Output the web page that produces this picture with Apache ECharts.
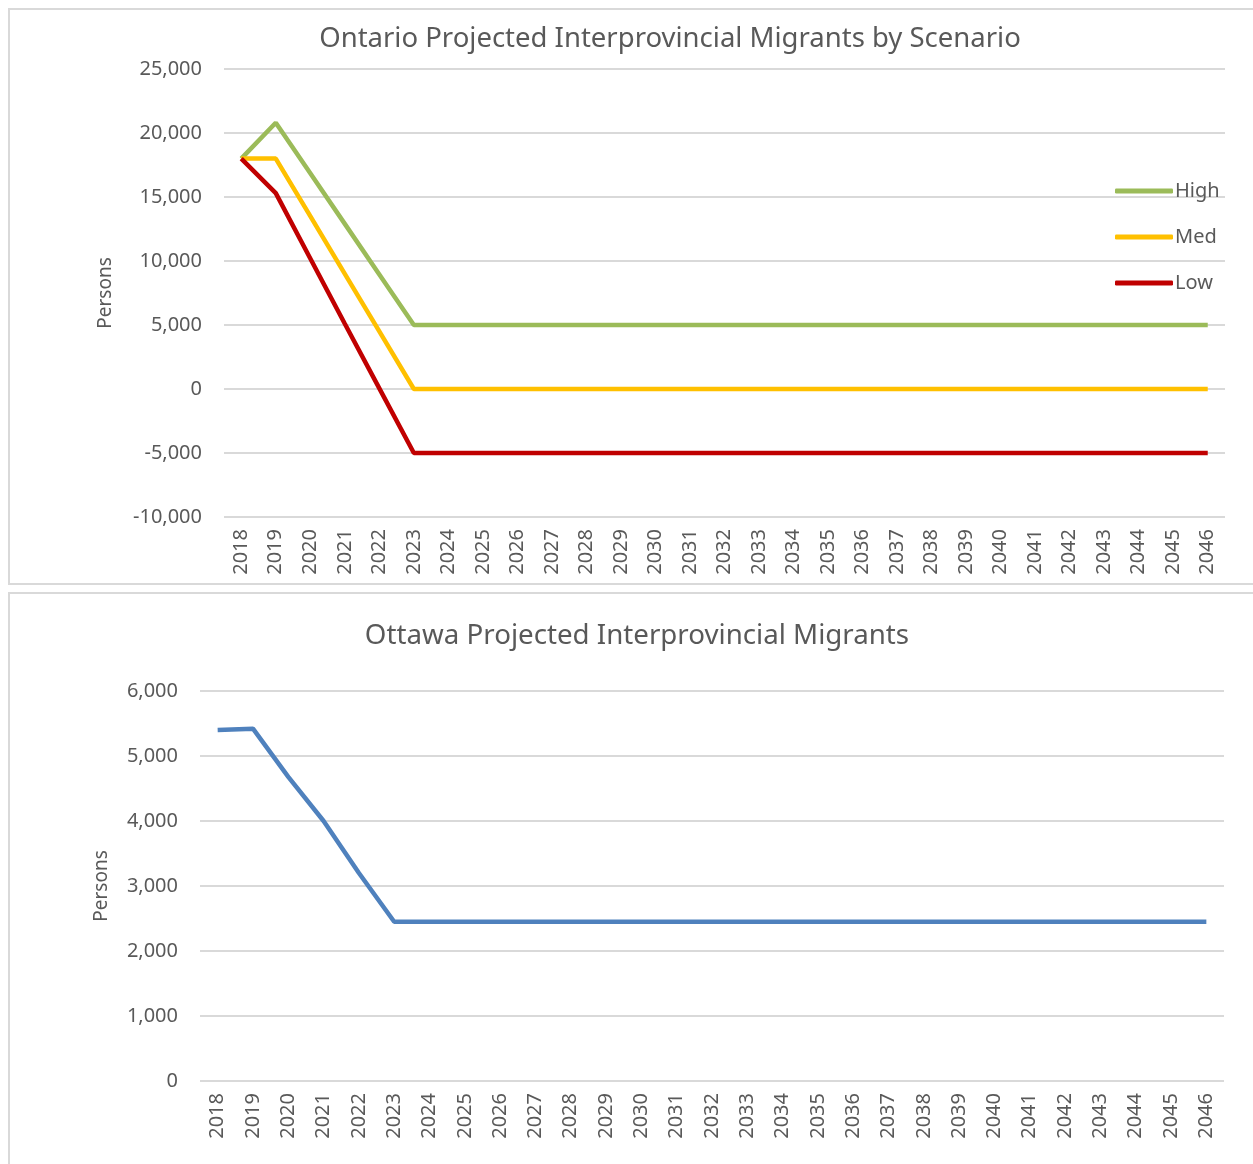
<!DOCTYPE html>
<html>
<head>
<meta charset="utf-8">
<script src="https://cdn.jsdelivr.net/npm/echarts@6/dist/echarts.min.js"></script>
<style>
  html, body { margin: 0; padding: 0; background: #fff; }
  #main { width: 1253px; height: 1164px; }
</style>
</head>
<body>
<div id="main"></div>
<script>
// data
var years = [];
for (var y = 2018; y <= 2046; y++) years.push(String(y));

var ontarioHigh = [18000, 20800, 16850, 12900, 8950, 5000, 5000, 5000, 5000, 5000, 5000, 5000, 5000, 5000, 5000, 5000, 5000, 5000, 5000, 5000, 5000, 5000, 5000, 5000, 5000, 5000, 5000, 5000, 5000];
var ontarioMed = [18000, 18000, 13500, 9000, 4500, 0, 0, 0, 0, 0, 0, 0, 0, 0, 0, 0, 0, 0, 0, 0, 0, 0, 0, 0, 0, 0, 0, 0, 0];
var ontarioLow = [18000, 15300, 10200, 5100, 50, -5000, -5000, -5000, -5000, -5000, -5000, -5000, -5000, -5000, -5000, -5000, -5000, -5000, -5000, -5000, -5000, -5000, -5000, -5000, -5000, -5000, -5000, -5000, -5000];
var ottawa = [5400, 5420, 4680, 4000, 3200, 2450, 2450, 2450, 2450, 2450, 2450, 2450, 2450, 2450, 2450, 2450, 2450, 2450, 2450, 2450, 2450, 2450, 2450, 2450, 2450, 2450, 2450, 2450, 2450];

var FONT = 'Noto Sans';
var GREY = '#595959';

var myChart = echarts.init(document.getElementById('main'));

function fmt(v) { return v.toLocaleString('en-US'); }

function xAxisCfg(idx) {
  return {
    type: 'category', gridIndex: idx, data: years, boundaryGap: true,
    axisLine: { show: false }, axisTick: { show: false },
    axisLabel: { interval: 0, rotate: 90, margin: 12, color: GREY, fontFamily: FONT, fontSize: 20 }
  };
}
function yAxisCfg(idx, min, max, step, gap) {
  return {
    type: 'value', gridIndex: idx, min: min, max: max, interval: step,
    name: 'Persons', nameLocation: 'middle', nameGap: gap,
    nameTextStyle: { color: GREY, fontFamily: FONT, fontSize: 19 },
    axisLine: { show: false }, axisTick: { show: false },
    axisLabel: { margin: 22, color: GREY, fontFamily: FONT, fontSize: 20, formatter: fmt },
    splitLine: { lineStyle: { color: '#d9d9d9', width: 2 } }
  };
}
function lineCfg(name, data, color, idx) {
  return {
    name: name, type: 'line', data: data, xAxisIndex: idx, yAxisIndex: idx,
    symbol: 'none', lineStyle: { color: color, width: 4.5 }, itemStyle: { color: color },
    animation: false
  };
}

var option = {
  animation: false,
  graphic: [
    { type: 'rect', shape: { x: 9, y: 9, width: 1250, height: 575 }, style: { fill: 'none', stroke: '#d9d9d9', lineWidth: 2 } },
    { type: 'rect', shape: { x: 9, y: 593, width: 1250, height: 575 }, style: { fill: 'none', stroke: '#d9d9d9', lineWidth: 2 } }
  ],
  title: [
    { text: 'Ontario Projected Interprovincial Migrants by Scenario', left: 665, top: 20, textAlign: 'center',
      textStyle: { color: GREY, fontFamily: FONT, fontSize: 27.5, fontWeight: 'normal' } },
    { text: 'Ottawa Projected Interprovincial Migrants', left: 632, top: 617, textAlign: 'center',
      textStyle: { color: GREY, fontFamily: FONT, fontSize: 27.7, fontWeight: 'normal' } }
  ],
  legend: {
    data: ['High', 'Med', 'Low'], orient: 'vertical', left: 1110, top: 176,
    icon: 'roundRect', itemWidth: 58, itemHeight: 5, itemGap: 26,
    textStyle: { color: GREY, fontFamily: FONT, fontSize: 20, padding: [0, 0, 0, -3] }
  },
  grid: [
    { left: 224, top: 69, width: 1001, height: 448 },
    { left: 200, top: 691, width: 1024, height: 390 }
  ],
  xAxis: [xAxisCfg(0), xAxisCfg(1)],
  yAxis: [yAxisCfg(0, -10000, 25000, 5000, 109), yAxisCfg(1, 0, 6000, 1000, 89)],
  series: [
    lineCfg('High', ontarioHigh, '#9BBB59', 0),
    lineCfg('Med', ontarioMed, '#FFC000', 0),
    lineCfg('Low', ontarioLow, '#C00000', 0),
    lineCfg('Ottawa', ottawa, '#4F81BD', 1)
  ]
};
myChart.setOption(option);
window.onresize = myChart.resize;
</script>
</body>
</html>
